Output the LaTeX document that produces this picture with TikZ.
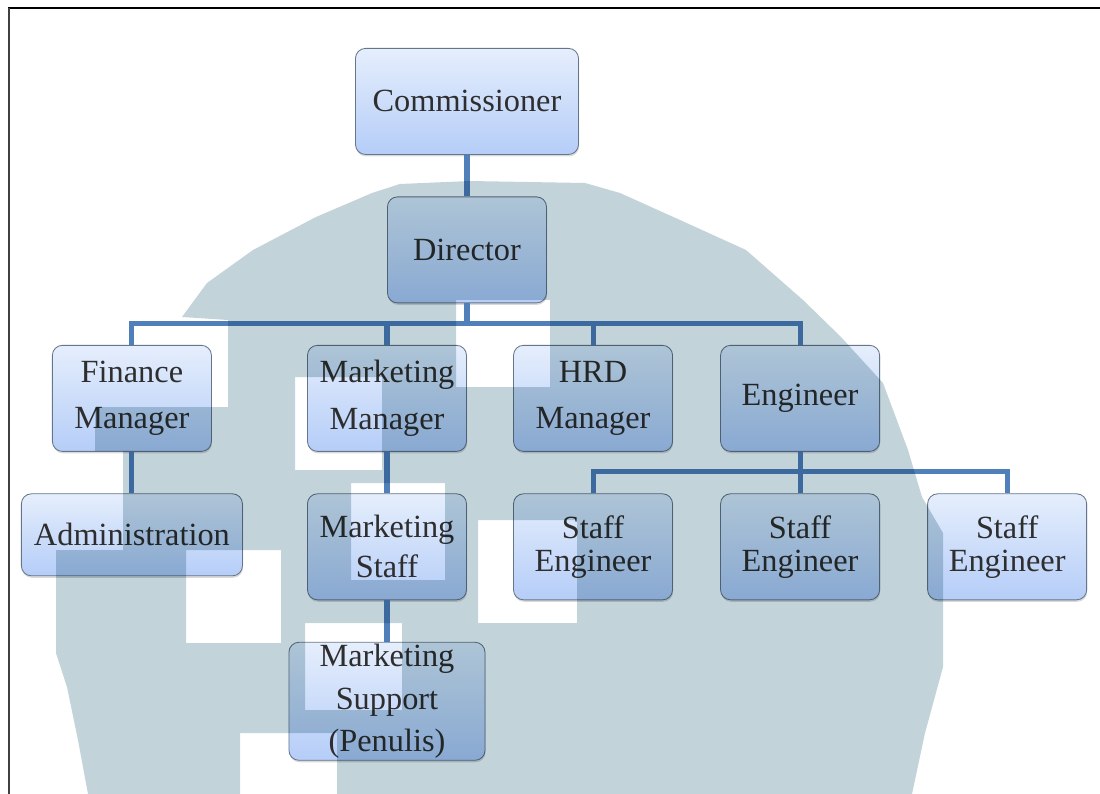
\documentclass[tikz,border=0pt]{standalone}
\usepackage{fontspec}
\setmainfont{Liberation Serif}
\usepackage{tikz}
\usetikzlibrary{shadows}

\definecolor{boxtop}{HTML}{E5EEFC}
\definecolor{boxbottom}{HTML}{B5CDF8}
\definecolor{boxedge}{HTML}{66768A}
\definecolor{linkblue}{HTML}{4F80BA}
\definecolor{labelgray}{HTML}{2E2E2E}
\definecolor{logogray}{HTML}{C2D3D9}

\tikzset{
  orgbox/.style  = {shape=rectangle, rounded corners=0.25cm,
                    draw=boxedge, line width=0.6pt, align=center, inner sep=0pt,
                    top color=boxtop, bottom color=boxbottom, text=labelgray,
                    minimum width=3.975cm, minimum height=2.65cm,
                    drop shadow={shadow xshift=0.4pt, shadow yshift=-1.4pt, opacity=0.3},
                    font=\fontsize{23}{33}\selectfont},
  topbox/.style  = {orgbox, minimum width=5.575cm},
  admin/.style   = {orgbox, minimum width=5.525cm, minimum height=2.05cm},
  midlead/.style = {orgbox, font=\fontsize{23}{28.5}\selectfont},
  tight/.style   = {orgbox, font=\fontsize{23}{23.5}\selectfont},
  support/.style = {orgbox, minimum width=4.9cm, minimum height=2.95cm,
                    font=\fontsize{23}{30.5}\selectfont}
}

\begin{document}
\begin{tikzpicture}
  [
    x                       = 0.025cm,
    y                       = -0.025cm,
    grow                    = down,
    level distance          = 2.375cm,
    level 2/.style          = {sibling distance=5.175cm},
    level 3/.style          = {sibling distance=5.175cm},
    edge from parent/.style = {draw=linkblue, line width=3.6pt},
    edge from parent path   = {(\tikzparentnode.south) -- ++(0,20) -| (\tikzchildnode.north)},
    every node/.style       = {anchor=north}
  ]
  \useasboundingbox (0,0) rectangle (1100,794);

  \node [topbox] (comm) at (467,48) {Commissioner}
    child { node [orgbox] (dir) {Director}
      child [xshift=-0.6125cm] { node [orgbox] (fin) {Finance\\Manager}
        child { node [admin] (adm) {Administration} } }
      child [xshift=0.5875cm] { node [orgbox] (mktmgr) {Marketing\\Manager}
        child { node [midlead] (mktstaff) {Marketing\\Staff}
          child { node [support] (mktsup) {Marketing\\Support\\(Penulis)} } } }
      child [xshift=0.5625cm] { node [orgbox] (hrd) {HRD\\Manager} }
      child [xshift=0.5625cm] { node [orgbox] (eng) {Engineer}
        child { node [tight] (steng1) {Staff\\Engineer} }
        child { node [tight] (steng2) {Staff\\Engineer} }
        child { node [tight] (steng3) {Staff\\Engineer} } } };

  % faded logo laid over the chart
  \begin{scope}[blend mode=multiply]
    \fill [logogray, even odd rule]
      (400,184) -- (470,181) -- (585,183) -- (620,193) -- (680,220) -- (746,250)
      -- (803,300) -- (841,337) -- (883,383) -- (908,450) -- (922,497) -- (943,533)
      -- (943,667) -- (925,733) -- (912,794) -- (88,794) -- (78,740) -- (67,687)
      -- (56,653) -- (56,550) -- (123,550) -- (123,451) -- (95,451) -- (95,407)
      -- (228,407) -- (228,320) -- (182,317) -- (207,283) -- (253,250) -- (316,217)
      -- (372,193) -- cycle
      (186,550) rectangle (281,643)
      (478,520) rectangle (577,623)
      (240,733) rectangle (337,794)
      (295,377) rectangle (382,470)
      (456,300) rectangle (550,387)
      (351,483) rectangle (445,580)
      (305,623) rectangle (402,710);
  \end{scope}

  % page frame
  \draw [black, line width=0.07cm] (8,8) -- (1100,8);
  \draw [black!75, line width=0.07cm] (9,8) -- (9,794);
\end{tikzpicture}
\end{document}
